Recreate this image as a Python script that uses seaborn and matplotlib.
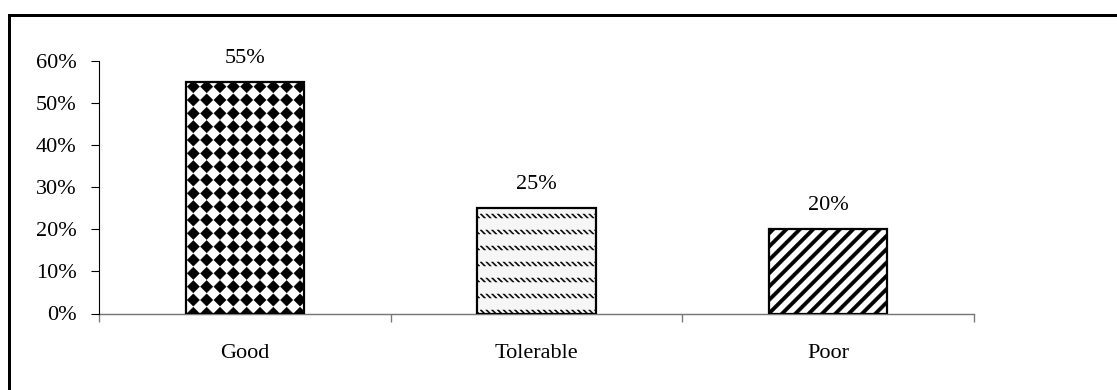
import numpy as np
import matplotlib
matplotlib.use("Agg")
import matplotlib.pyplot as plt
import matplotlib.hatch as mhatch
from matplotlib.path import Path
from matplotlib.patches import Rectangle
from matplotlib.ticker import FixedLocator, FuncFormatter
import seaborn as sns

# ---- data -------------------------------------------------------------
categories = ["Good", "Tolerable", "Poor"]
shares = [55, 25, 20]          # percent of respondents
y_ticks = [0, 10, 20, 30, 40, 50, 60]


# ---- custom fill patterns ----------------------------------------------
class DiamondHatch(mhatch.HatchPatternBase):
    """Square grid of solid black diamonds ('*')."""

    def __init__(self, hatch, density):
        self.n = hatch.count('*') * density
        self.num_vertices = self.n * self.n * 5

    def set_vertices_and_codes(self, vertices, codes):
        n = self.n
        r = 0.46 / n
        shape = np.array([[0, r], [r, 0], [0, -r], [-r, 0], [0, r]])
        scodes = [Path.MOVETO, Path.LINETO, Path.LINETO, Path.LINETO,
                  Path.CLOSEPOLY]
        k = 0
        for i in range(n):
            for j in range(n):
                c = np.array([(i + 0.5) / n, (j + 0.5) / n])
                vertices[k:k + 5] = shape + c
                codes[k:k + 5] = scodes
                k += 5


class DashRowHatch(mhatch.HatchPatternBase):
    """Rows of short downward-diagonal dashes ('O')."""

    def __init__(self, hatch, density):
        cnt = hatch.count('O')
        self.rows = 5 * cnt
        self.cols = 14 * cnt
        self.num_vertices = self.rows * self.cols * 5

    def set_vertices_and_codes(self, vertices, codes):
        d = 0.05
        t = 0.02
        scodes = [Path.MOVETO, Path.LINETO, Path.LINETO, Path.LINETO,
                  Path.CLOSEPOLY]
        k = 0
        for j in range(self.rows):
            y0 = (j + 0.5) / self.rows + d / 2
            for i in range(self.cols):
                x0 = i / self.cols
                vertices[k:k + 5] = [[x0, y0], [x0 + t, y0],
                                     [x0 + t + d, y0 - d], [x0 + d, y0 - d],
                                     [x0, y0]]
                codes[k:k + 5] = scodes
                k += 5


class StripeHatch(mhatch.HatchPatternBase):
    """Bold upward-diagonal stripes ('o')."""

    def __init__(self, hatch, density):
        self.n = hatch.count('o') * density
        self.num_vertices = (2 * self.n + 1) * 5 if self.n else 0

    def set_vertices_and_codes(self, vertices, codes):
        n = self.n
        w = 0.06
        t0, t1 = -0.2, 1.2
        scodes = [Path.MOVETO, Path.LINETO, Path.LINETO, Path.LINETO,
                  Path.CLOSEPOLY]
        k = 0
        for m in range(-n, n + 1):
            c = m / n
            vertices[k:k + 5] = [[t0, t0 + c], [t1, t1 + c],
                                 [t1 + w, t1 + c], [t0 + w, t0 + c],
                                 [t0, t0 + c]]
            codes[k:k + 5] = scodes
            k += 5


mhatch._hatch_types = [
    DiamondHatch if t is mhatch.Stars else
    DashRowHatch if t is mhatch.LargeCircles else
    StripeHatch if t is mhatch.SmallCircles else t
    for t in mhatch._hatch_types
]

# ---- style ------------------------------------------------------------
sns.set_style("white")
plt.rcParams["font.family"] = ["Liberation Serif", "DejaVu Serif"]
plt.rcParams["hatch.linewidth"] = 0.4
plt.rcParams["hatch.color"] = "black"

DPI = 80
W, H = 1117, 390
fig = plt.figure(figsize=(W / DPI, H / DPI), dpi=DPI, facecolor="white")

# outer chart frame (runs off the right and bottom edges)
fig.patches.append(Rectangle((9 / W, -0.2), 1.2, (H - 15.5) / H + 0.2,
                             transform=fig.transFigure, fill=False,
                             edgecolor="black", linewidth=2.7, zorder=10))

ax = fig.add_axes([99 / W, 76.5 / H, 875 / W, 252.5 / H])
ax.set_facecolor("white")

sns.barplot(x=categories, y=shares, ax=ax, color="white", saturation=1,
            width=0.405, edgecolor="black", linewidth=2.0, errorbar=None)

hatches = ["*", "O", "o"]
faces = ["white", "#f6f6f6", "white"]
for patch, h, fc in zip(ax.patches, hatches, faces):
    patch.set_hatch(h)
    patch.set_facecolor(fc)

# value labels above the bars
for i, v in enumerate(shares):
    ax.annotate(f"{v}%", xy=(i, v), xytext=(0, 17), textcoords="offset points",
                ha="center", va="baseline", fontsize=20, color="black")

# axes
ax.set_xlim(-0.5, len(categories) - 0.5)
ax.set_ylim(0, 60)
ax.yaxis.set_major_locator(FixedLocator(y_ticks))
ax.yaxis.set_major_formatter(FuncFormatter(lambda v, _: f"{v:.0f}%"))
ax.tick_params(axis="y", which="major", left=True, direction="out",
               length=7.5, width=1, color="black", pad=12.5,
               labelsize=20, labelcolor="black")

ax.xaxis.set_minor_locator(FixedLocator(np.arange(len(categories) + 1) - 0.5))
ax.tick_params(axis="x", which="minor", bottom=True, direction="out",
               length=7, width=1.2, color="#777777")
ax.tick_params(axis="x", which="major", bottom=False, length=0, pad=27,
               labelsize=20, labelcolor="black")
ax.set_xlabel("")
ax.set_ylabel("")

for side in ("top", "right"):
    ax.spines[side].set_visible(False)
ax.spines["left"].set_color("black")
ax.spines["left"].set_linewidth(1)
ax.spines["bottom"].set_color("#777777")
ax.spines["bottom"].set_linewidth(1.3)
ax.spines["bottom"].set_zorder(0.5)

fig.savefig("out.png", dpi=DPI, facecolor="white")
